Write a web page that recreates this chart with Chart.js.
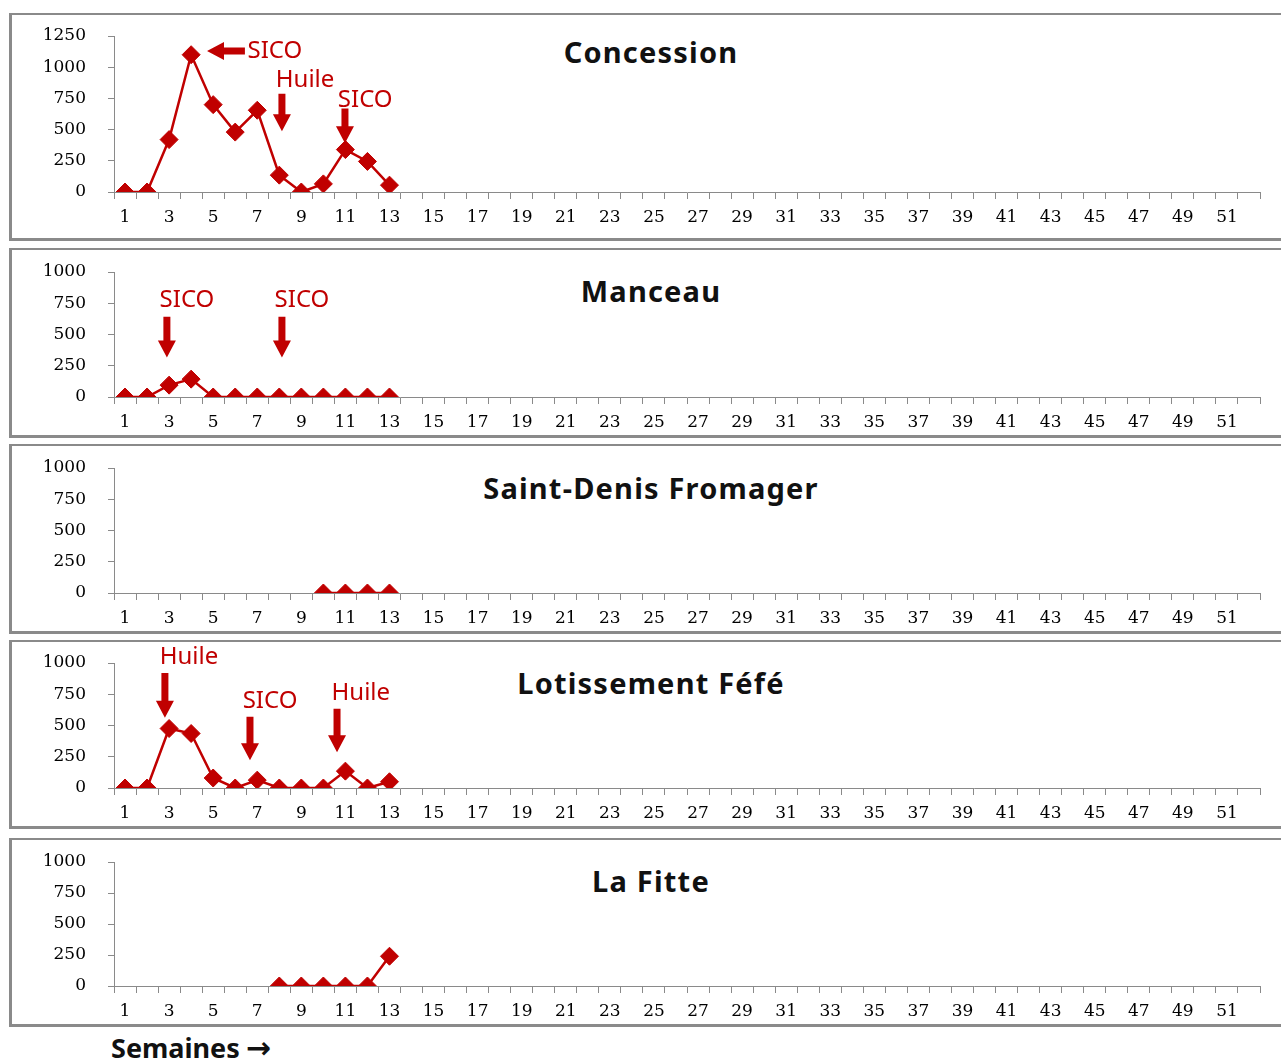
<!DOCTYPE html>
<html>
<head>
<meta charset="utf-8">
<script src="https://cdn.jsdelivr.net/npm/chart.js@4.4.1/dist/chart.umd.min.js"></script>
<style>
  body { margin: 0; background: #fff; width: 1281px; height: 1061px; overflow: hidden; position: relative; font-family: "Noto Sans", sans-serif; }
  .panel { position: absolute; left: 9px; width: 1290px; box-sizing: border-box;
           border-top: 2px solid #8a8a8a; border-left: 3px solid #8a8a8a; border-bottom: 3px solid #8a8a8a; }
  .box { position: absolute; left: 0; width: 1281px; }
  .title { position: absolute; left: 351px; width: 600px; text-align: center; font-weight: bold;
           font-size: 29px; line-height: 34px; color: #111; letter-spacing: 1.2px; }
  #xname { position: absolute; left: 111px; top: 1030px; font-weight: bold; font-size: 27px; line-height: 36px; color: #111; }
  #xname span { font-family: "DejaVu Sans", sans-serif; font-weight: bold; font-size: 30px; margin-left: 6px; }
</style>
</head>
<body>
<div id="xname">Semaines<span>→</span></div>
<script>
// weeks of the year
const weeks = ['1','2','3','4','5','6','7','8','9','10','11','12','13','14','15','16','17','18','19','20',
  '21','22','23','24','25','26','27','28','29','30','31','32','33','34','35','36','37','38','39','40',
  '41','42','43','44','45','46','47','48','49','50','51','52'];

// values per site, week 1 to 13 (null = no sample)
const concession  = [0, 0, 420, 1100, 700, 480, 655, 135, 0, 65, 340, 245, 55];
const manceau     = [0, 0, 95, 143, 0, 0, 0, 0, 0, 0, 0, 0, 0];
const saintDenis  = [null, null, null, null, null, null, null, null, null, 0, 0, 0, 0];
const lotissement = [0, 0, 476, 436, 80, 0, 63, 0, 0, 0, 135, 0, 50];
const laFitte     = [null, null, null, null, null, null, null, 0, 0, 0, 0, 0, 240];

// treatment notes: [week, value] anchors
const notesConcession = [
  { text: 'SICO',  at: [7.8, 1130],  from: [6.44, 1130], to: [4.72, 1130] },
  { text: 'Huile', at: [9.17, 900],  from: [8.12, 788],  to: [8.12, 486] },
  { text: 'SICO',  at: [11.9, 732],  from: [10.98, 669], to: [10.98, 390] },
];
const notesManceau = [
  { text: 'SICO', at: [3.81, 778], from: [2.9, 643],  to: [2.9, 317] },
  { text: 'SICO', at: [9.03, 778], from: [8.12, 643], to: [8.12, 317] },
];
const notesLotissement = [
  { text: 'Huile', at: [3.9, 1048],  from: [2.81, 921],  to: [2.81, 563] },
  { text: 'SICO',  at: [7.58, 698],  from: [6.67, 571],  to: [6.67, 222] },
  { text: 'Huile', at: [11.7, 762],  from: [10.62, 635], to: [10.62, 286] },
];

const RED = '#c00000';

const panels = [
  { name: 'Concession',           values: concession,  yMax: 1250, notes: notesConcession,  top: 13,  bottom: 241, plotTop: 36,  axisY: 192, titleY: 53 },
  { name: 'Manceau',              values: manceau,     yMax: 1000, notes: notesManceau,     top: 248, bottom: 438, plotTop: 272, axisY: 397, titleY: 292 },
  { name: 'Saint-Denis Fromager', values: saintDenis,  yMax: 1000, notes: [],               top: 444, bottom: 634, plotTop: 468, axisY: 593, titleY: 489 },
  { name: 'Lotissement Féfé',     values: lotissement, yMax: 1000, notes: notesLotissement, top: 640, bottom: 829, plotTop: 663, axisY: 788, titleY: 684 },
  { name: 'La Fitte',             values: laFitte,     yMax: 1000, notes: [],               top: 838, bottom: 1027, plotTop: 862, axisY: 986, titleY: 882 },
];

function drawArrow(ctx, x1, y1, x2, y2) {
  const ang = Math.atan2(y2 - y1, x2 - x1);
  const len = Math.hypot(x2 - x1, y2 - y1);
  const headLen = 17, headW = 9, shaftW = 3.5;
  ctx.save();
  ctx.translate(x1, y1);
  ctx.rotate(ang);
  ctx.beginPath();
  ctx.moveTo(0, -shaftW);
  ctx.lineTo(len - headLen, -shaftW);
  ctx.lineTo(len - headLen, -headW);
  ctx.lineTo(len, 0);
  ctx.lineTo(len - headLen, headW);
  ctx.lineTo(len - headLen, shaftW);
  ctx.lineTo(0, shaftW);
  ctx.closePath();
  ctx.fillStyle = RED;
  ctx.fill();
  ctx.restore();
}

const notesPlugin = {
  id: 'notes',
  afterDatasetsDraw(chart, args, opts) {
    const { ctx, scales: { x, y } } = chart;
    const px = w => x.getPixelForValue(w - 1);
    (opts.items || []).forEach(n => {
      drawArrow(ctx, px(n.from[0]), y.getPixelForValue(n.from[1]), px(n.to[0]), y.getPixelForValue(n.to[1]));
      ctx.save();
      ctx.font = '24px "Noto Sans"';
      ctx.fillStyle = RED;
      ctx.textAlign = 'center';
      ctx.textBaseline = 'middle';
      ctx.fillText(n.text, px(n.at[0]), y.getPixelForValue(n.at[1]));
      ctx.restore();
    });
  }
};

panels.forEach((p, i) => {
  const frame = document.createElement('div');
  frame.className = 'panel';
  frame.style.top = p.top + 'px';
  frame.style.height = (p.bottom - p.top) + 'px';
  document.body.appendChild(frame);

  const title = document.createElement('div');
  title.className = 'title';
  title.textContent = p.name;
  title.style.top = (p.titleY - 18) + 'px';
  document.body.appendChild(title);

  const box = document.createElement('div');
  box.className = 'box';
  box.style.top = p.top + 'px';
  box.style.height = (p.bottom - p.top) + 'px';
  const canvas = document.createElement('canvas');
  box.appendChild(canvas);
  document.body.appendChild(box);

  const xHeight = p.bottom - p.axisY;

  new Chart(canvas, {
    type: 'line',
    data: {
      labels: weeks,
      datasets: [{
        data: p.values,
        borderColor: RED,
        backgroundColor: RED,
        borderWidth: 2.5,
        pointStyle: 'rectRot',
        pointRadius: 9,
        pointBorderWidth: 1,
        pointHoverRadius: 9,
        tension: 0,
        spanGaps: false,
      }]
    },
    plugins: [notesPlugin],
    options: {
      responsive: true,
      maintainAspectRatio: false,
      animation: false,
      layout: { padding: { top: p.plotTop - p.top, right: 21, left: 0, bottom: 0 } },
      scales: {
        x: {
          type: 'category',
          offset: true,
          afterFit: s => { s.height = xHeight; s.paddingLeft = 0; s.paddingRight = 0; },
          grid: { offset: true, drawOnChartArea: false, drawTicks: true, tickLength: 7, color: '#8a8a8a' },
          border: { color: '#8a8a8a', width: 1 },
          ticks: {
            autoSkip: false, maxRotation: 0, padding: 8, color: '#000',
            font: { family: '"DejaVu Serif"', size: 17 },
            callback: (v, idx) => (idx % 2 === 0 ? weeks[idx] : '')
          }
        },
        y: {
          min: 0, max: p.yMax,
          afterFit: s => { s.width = 114; s.paddingTop = 0; s.paddingBottom = 0; },
          grid: { drawOnChartArea: false, drawTicks: true, tickLength: 6, color: '#8a8a8a' },
          border: { color: '#8a8a8a', width: 1 },
          ticks: {
            stepSize: 250, padding: 22, color: '#000',
            font: { family: '"DejaVu Serif"', size: 17 },
            callback: v => String(v)
          }
        }
      },
      plugins: {
        legend: { display: false },
        tooltip: { enabled: false },
        notes: { items: p.notes }
      }
    }
  });
});
</script>
</body>
</html>
